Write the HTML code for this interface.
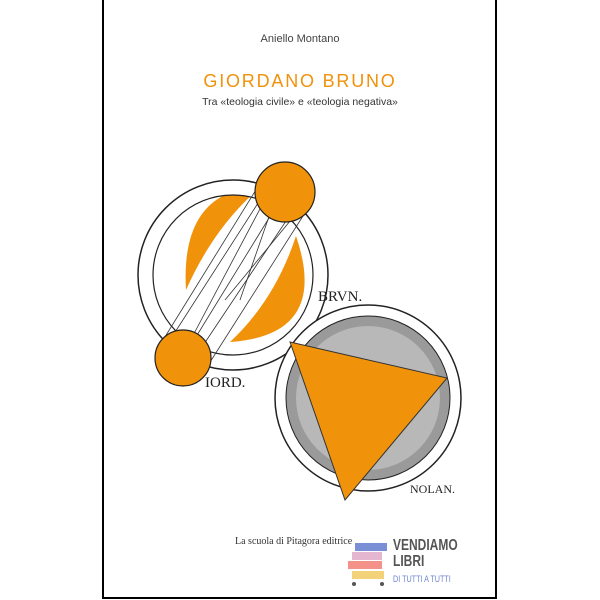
<!DOCTYPE html>
<html><head><style>
body{margin:0;width:600px;height:600px;background:#fff;overflow:hidden;position:relative;font-family:"Liberation Sans",sans-serif}
.t{position:absolute;white-space:nowrap}
</style></head><body>
<div style="position:absolute;left:102px;top:-2px;width:391px;height:597px;border:2px solid #000;"></div>
<div class="t" style="left:0;width:600px;text-align:center;top:33px;font-size:11px;color:#444">Aniello Montano</div>
<div class="t" style="left:0;width:600px;text-align:center;top:71px;font-size:18px;color:#f0920a;letter-spacing:1.8px;font-weight:300">GIORDANO BRUNO</div>
<div class="t" style="left:0;width:600px;text-align:center;top:96px;font-size:10.5px;color:#333">Tra «teologia civile» e «teologia negativa»</div>
<svg width="600" height="600" style="position:absolute;left:0;top:0">
<defs><clipPath id="c1"><circle cx="233" cy="275" r="80"/></clipPath></defs>
<circle cx="233" cy="275" r="95" fill="none" stroke="#222" stroke-width="1.5"/>
<g clip-path="url(#c1)">
<path d="M262 186 Q180 190 186 290 Q215 225 262 186 Z" fill="#f0920a"/>
<path d="M296 236 Q330 335 230 342 Q275 300 296 236 Z" fill="#f0920a"/>
</g>
<circle cx="233" cy="275" r="80" fill="none" stroke="#222" stroke-width="1.2"/>
<g stroke="#333" stroke-width="0.8">
<line x1="262" y1="180" x2="160" y2="345"/><line x1="310" y1="205" x2="205" y2="370"/>
<line x1="270" y1="190" x2="180" y2="360"/><line x1="300" y1="200" x2="190" y2="365"/>
<line x1="280" y1="185" x2="240" y2="300"/><line x1="295" y1="215" x2="225" y2="300"/>
<line x1="285" y1="192" x2="183" y2="358"/><line x1="260" y1="200" x2="170" y2="340"/>
</g>
<circle cx="285" cy="192" r="30" fill="#f0920a" stroke="#222" stroke-width="1.2"/>
<circle cx="183" cy="358" r="28" fill="#f0920a" stroke="#222" stroke-width="1.2"/>
<circle cx="368" cy="398" r="93" fill="#fff" stroke="#222" stroke-width="1.5"/>
<circle cx="368" cy="398" r="82" fill="#9a9a9a" stroke="#222" stroke-width="1"/>
<circle cx="368" cy="398" r="72" fill="#b8b8b8"/>
<path d="M290 342 L447 378 L345 500 Z" fill="#f0920a" stroke="#333" stroke-width="1"/>
<text x="318" y="301" font-family="Liberation Serif,serif" font-size="15" fill="#222">BRVN.</text>
<text x="205" y="387" font-family="Liberation Serif,serif" font-size="15" fill="#222">IORD.</text>
<text x="410" y="493" font-family="Liberation Serif,serif" font-size="12" fill="#222">NOLAN.</text>
<rect x="355" y="543" width="32" height="8" fill="#7b8fd6"/>
<rect x="352" y="552" width="30" height="8" fill="#e5b6d0"/>
<rect x="348" y="561" width="34" height="8" fill="#f4928a"/>
<rect x="352" y="571" width="32" height="8" fill="#f4d27a"/>
<circle cx="354" cy="584" r="2" fill="#555"/><circle cx="382" cy="584" r="2" fill="#555"/>
</svg>
<div class="t" style="left:235px;top:536px;font-size:10px;color:#333;font-family:'Liberation Serif',serif">La scuola di Pitagora editrice</div>
<div class="t" style="left:393px;top:538px;font-size:16px;line-height:16px;color:#555;font-weight:bold;transform:scaleX(0.75);transform-origin:left">VENDIAMO<br>LIBRI</div>
<div class="t" style="left:393px;top:574px;font-size:9px;color:#6f86d0;transform:scaleX(0.8);transform-origin:left">DI TUTTI A TUTTI</div>
</body></html>
